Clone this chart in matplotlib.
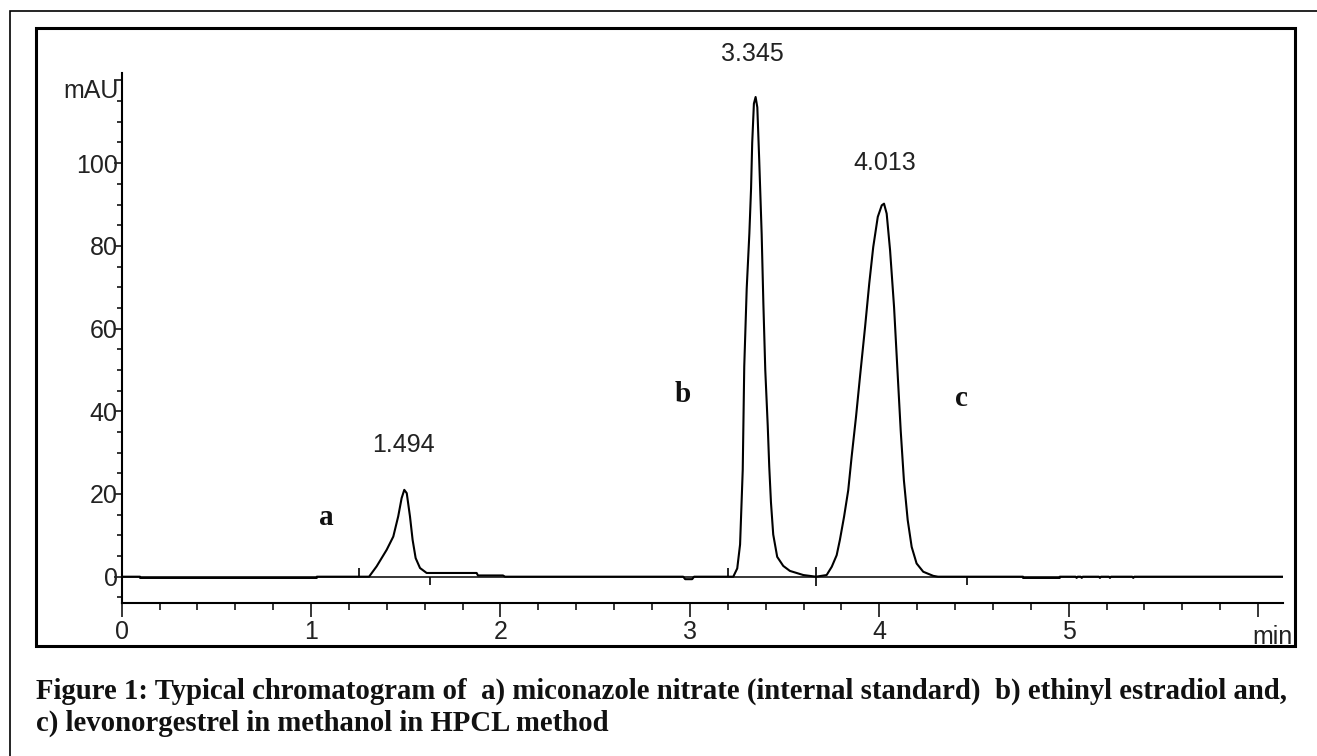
import matplotlib
matplotlib.use('Agg')
import matplotlib.pyplot as plt
from matplotlib.patches import Rectangle
from matplotlib.ticker import MultipleLocator

plt.rcParams['font.family'] = 'Liberation Sans'

# baseline before the first peak (min, mAU)
base1_t = [0.0, 0.097, 0.097, 1.03, 1.03, 1.306]
base1_mau = [0.0, 0.0, -0.3, -0.3, 0.0, 0.0]

# peak a  (1.494 min)
peak_a_t = [1.346, 1.399, 1.434, 1.460, 1.478, 1.492, 1.505, 1.522, 1.536,
            1.552, 1.575, 1.610, 1.874, 1.881, 2.013, 2.024]
peak_a_mau = [2.5, 6.5, 9.7, 14.6, 19.0, 21.0, 20.2, 14.6, 8.9,
              4.5, 2.1, 0.9, 0.9, 0.3, 0.3, 0.0]

# small dip near 3 min
dip_t = [2.965, 2.975, 3.012, 3.022, 3.229]
dip_mau = [0.0, -0.6, -0.6, 0.0, 0.0]

# peak b  (3.345 min)
peak_b_t = [3.250, 3.265, 3.279, 3.287, 3.300, 3.314, 3.323, 3.329, 3.338,
            3.347, 3.356, 3.366, 3.379, 3.388, 3.398, 3.411, 3.419, 3.428,
            3.440, 3.461, 3.493, 3.528, 3.599, 3.666]
peak_b_mau = [2.0, 7.8, 25.8, 50.8, 69.7, 83.0, 93.9, 104.9, 114.4,
              116.0, 113.5, 100.8, 82.8, 66.0, 50.0, 36.5, 26.6, 18.0,
              10.2, 4.8, 2.6, 1.4, 0.4, 0.0]

# peak c  (4.013 min)
peak_c_t = [3.722, 3.749, 3.775, 3.792, 3.814, 3.836, 3.854, 3.877, 3.898,
            3.925, 3.947, 3.968, 3.992, 4.013, 4.025, 4.039, 4.057, 4.078,
            4.095, 4.113, 4.130, 4.150, 4.171, 4.197, 4.232, 4.285, 4.310]
peak_c_mau = [0.4, 2.4, 5.2, 8.9, 14.5, 20.9, 29.0, 38.6, 48.3,
              60.4, 70.9, 79.7, 87.0, 89.8, 90.2, 87.8, 78.9, 65.2,
              50.7, 35.4, 23.3, 13.7, 7.2, 3.2, 1.2, 0.2, 0.0]

# noisy tail
tail_t = [4.759, 4.759, 4.953, 4.953, 5.037, 5.042, 5.047, 5.064, 5.069, 5.074,
          5.160, 5.165, 5.170, 5.213, 5.218, 5.223, 5.336, 5.341, 5.346, 6.13]
tail_mau = [0.0, -0.3, -0.3, 0.0, 0.0, -0.3, 0.0, 0.0, -0.3, 0.0,
            0.0, -0.3, 0.0, 0.0, -0.3, 0.0, 0.0, -0.3, 0.0, 0.0]

# integration event marks: time, bottom, top
event_t = [1.254, 1.628, 3.200, 3.666, 4.463]
event_lo = [0.0, -2.0, 0.0, -2.2, -2.0]
event_hi = [2.2, 0.0, 2.2, 2.4, 0.0]

rt_labels = ['1.494', '3.345', '4.013']
rt_pos = [(1.489, 31.9), (3.332, 126.4), (4.030, 100.0)]
peak_names = ['a', 'b', 'c']
name_pos = [(1.082, 14.3), (2.964, 44.0), (4.435, 43.2)]

x_ticks = [0, 1, 2, 3, 4, 5, 6]
x_ticklabels = ['0', '1', '2', '3', '4', '5', '']
y_ticks = [0, 20, 40, 60, 80, 100, 120]
y_ticklabels = ['0', '20', '40', '60', '80', '100', '']

caption1 = ('Figure 1: Typical chromatogram of  a) miconazole nitrate '
            '(internal standard)  b) ethinyl estradiol and,')
caption2 = 'c) levonorgestrel in methanol in HPCL method'

W, H = 1317, 756
fig = plt.figure(figsize=(W / 100, H / 100), dpi=100)


def fx(px):
    return px / W


def fy(py):
    return 1 - py / H


ax = fig.add_axes([fx(121.7), fy(603), fx(1282.7) - fx(121.7), fy(73) - fy(603)])
ax.set_xlim(0, 6.13)
ax.set_ylim(-6.36, 121.8)

t = base1_t + peak_a_t + dip_t + peak_b_t + peak_c_t + tail_t
mau = base1_mau + peak_a_mau + dip_mau + peak_b_mau + peak_c_mau + tail_mau
ax.axhline(0, color='black', lw=1.1)
ax.plot(t, mau, color='black', lw=1.5)
ax.vlines(event_t, event_lo, event_hi, color='black', lw=1.2)

for s, (x, y) in zip(rt_labels, rt_pos):
    ax.text(x, y, s, ha='center', va='center', fontsize=18, color='#222222',
            clip_on=False)
for s, (x, y) in zip(peak_names, name_pos):
    ax.text(x, y, s, ha='center', va='center', fontsize=21, fontweight='bold',
            family='Liberation Serif', color='#111111')

for side in ['top', 'right']:
    ax.spines[side].set_visible(False)
for side in ['left', 'bottom']:
    ax.spines[side].set_linewidth(1.5)

ax.set_xticks(x_ticks)
ax.set_xticklabels(x_ticklabels)
ax.xaxis.set_minor_locator(MultipleLocator(0.2))
ax.set_yticks(y_ticks)
ax.set_yticklabels(y_ticklabels)
ax.yaxis.set_minor_locator(MultipleLocator(5))
ax.tick_params(axis='x', which='major', length=10, width=1.1, pad=2,
               labelsize=18, labelcolor='#222222')
ax.tick_params(axis='x', which='minor', length=5, width=1.1)
ax.tick_params(axis='y', which='major', length=5.8, width=1.1, pad=-3,
               labelsize=18, labelcolor='#222222')
ax.tick_params(axis='y', which='minor', length=3.6, width=1.1)

ax.annotate('mAU', xy=(0, 117.5), xycoords=('axes fraction', 'data'),
            xytext=(-2, 0), textcoords='offset points', ha='right', va='center',
            fontsize=18, color='#222222')

# frames
inner = Rectangle((fx(36), fy(646)), fx(1295) - fx(36), fy(28) - fy(646),
                  transform=fig.transFigure, fill=False, lw=2.2, ec='black')
outer = Rectangle((fx(10), fy(780)), fx(1340) - fx(10), fy(10.7) - fy(780),
                  transform=fig.transFigure, fill=False, lw=1.2, ec='black')
fig.add_artist(inner)
fig.add_artist(outer)

mn = ax.annotate('min', xy=(6, 0), xycoords=('data', 'axes fraction'),
                 xytext=(-4, -16), textcoords='offset points', ha='left',
                 va='top', fontsize=18, color='#222222')
mn.set_clip_path(inner)

fig.text(fx(36), fy(699), caption1, family='Liberation Serif', fontweight='bold',
         fontsize=20.7, va='baseline', color='#111111')
fig.text(fx(36), fy(731), caption2, family='Liberation Serif', fontweight='bold',
         fontsize=20.7, va='baseline', color='#111111')

fig.savefig('out.png', dpi=100)
